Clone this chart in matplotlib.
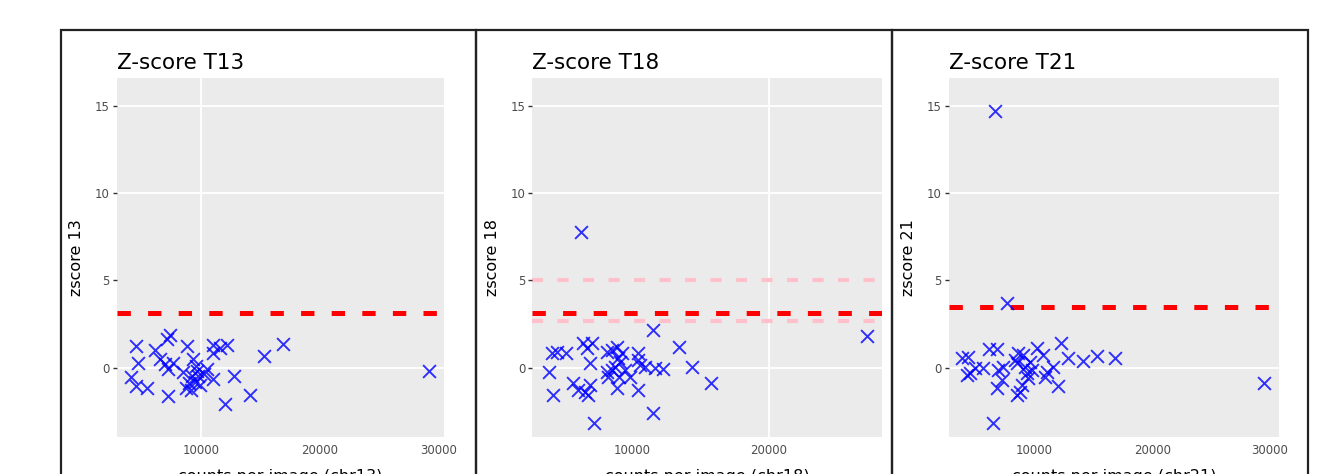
import matplotlib.pyplot as plt
from matplotlib.patches import Rectangle

# counts per image and z-scores for each chromosome
t13_x = [4450, 4680, 4040, 4450, 5440, 6060, 6510, 6900, 7100, 7360, 7215, 7640, 7215,
         8800, 8480, 8700, 9300, 9190, 9470, 9100, 9610, 9750, 10450, 11010, 10960, 11010,
         12140, 11600, 12760, 12000, 14110, 15290, 16870, 29180, 9000, 9900, 10200, 9550]
t13_y = [1.22, 0.25, -0.55, -1.05, -1.18, 1.0, 0.5, 0.2, 1.65, 1.9, -0.05, 0.25, -1.6,
         1.27, -0.22, -1.15, 0.5, -0.5, -0.8, -1.3, -0.2, -0.5, -0.05, 1.3, 0.85, -0.65,
         1.3, 1.1, -0.5, -2.1, -1.55, 0.65, 1.35, -0.2, -0.9, -1.0, -0.35, 0.1]

t18_x = [3940, 4210, 4185, 4500, 5160, 5720, 6080, 6280, 6450, 6690, 7060, 6930, 6570,
         6810, 6930, 7250, 8150, 8520, 8880, 8150, 8270, 8520, 8760, 8880, 9000, 9120,
         9250, 9050, 9490, 9850, 10460, 10410, 10580, 10460, 10950, 11560, 11680, 11560,
         12240, 13430, 14360, 15770, 27150]
t18_y = [-0.23, -1.57, 0.86, 0.92, 0.86, -0.9, -1.28, 7.74, 1.39, 1.1, 1.39, 0.25, -1.38,
         -1.57, -1.0, -3.15, 0.92, 1.01, 1.2, -0.23, -0.52, -0.13, 0.06, -1.18, 0.53, 0.34,
         0.82, -0.52, -0.13, -0.52, 0.82, 0.44, 0.15, -1.28, 0.06, 2.16, -0.04, -2.62,
         -0.1, 1.2, 0.06, -0.9, 1.81]

t21_x = [6660, 7650, 3830, 4400, 4260, 4540, 4970, 5670, 6150, 6800, 6950, 7370, 7230,
         6800, 6520, 8360, 8640, 8500, 8500, 8780, 8930, 9070, 9210, 9350, 9490, 9630,
         9770, 10200, 10760, 10900, 11050, 11610, 12040, 12240, 12890, 14160, 15290,
         16850, 29490]
t21_y = [14.67, 3.69, 0.53, 0.63, -0.42, -0.32, -0.04, -0.04, 1.05, 1.05, -0.13, 0.06,
         -0.71, -1.18, -3.19, 0.44, 0.82, 0.25, -1.57, -1.38, -1.0, 0.73, 0.06, -0.32,
         -0.61, 0.34, -0.13, 1.1, 0.73, -0.52, -0.23, 0.06, -1.05, 1.39, 0.53, 0.38, 0.67,
         0.53, -0.9]

titles = ['Z-score T13', 'Z-score T18', 'Z-score T21']
ylabels = ['zscore 13', 'zscore 18', 'zscore 21']
xlabels = ['counts per image (chr13)', 'counts per image (chr18)', 'counts per image (chr21)']
cutoffs = [3.13, 3.13, 3.5]
t18_bands = [5.0, 2.7]

W, H = 1326, 474
fig = plt.figure(figsize=(W / 100, H / 100), dpi=100)

# panel layout in pixels: plot left, plot right, border left, border right
panels = [(116.7, 444, 61, 475.7), (532.3, 882.3, 475.7, 891.7), (948.7, 1279.3, 891.7, 1308.3)]
xlims = [(2860, 30480), (2723, 28270), (2740, 30790)]
xticks = [[10000, 20000, 30000], [10000, 20000], [10000, 20000, 30000]]
xtick_marked = [[10000], [20000], []]
top, bottom = 77.7, 436.7

data = [(t13_x, t13_y), (t18_x, t18_y), (t21_x, t21_y)]
dash = (0, (2.67, 3.45))

for i in range(3):
    pl, pr, bl, br = panels[i]
    fig.patches.append(Rectangle((bl / W, -0.1), (br - bl) / W, 1.1 - 30 / H,
                                 transform=fig.transFigure, fill=False,
                                 edgecolor='#222222', lw=1.6))
    ax = fig.add_axes([pl / W, 1 - bottom / H, (pr - pl) / W, (bottom - top) / H])
    ax.set_facecolor('#EBEBEB')
    for s in ax.spines.values():
        s.set_visible(False)
    ax.set_xlim(*xlims[i])
    ax.set_ylim(-3.95, 16.6)

    # white grid only where the original draws it
    for g in [0, 10, 15]:
        ax.axhline(g, color='white', lw=1.3, zorder=0)
    for g in xtick_marked[i]:
        ax.axvline(g, color='white', lw=1.3, zorder=0)

    if i == 1:
        for b in t18_bands:
            ax.axhline(b, color='pink', lw=3.0, ls=dash, zorder=1)
    ax.axhline(cutoffs[i], color='red', lw=3.6, ls=dash, zorder=1)

    x, y = data[i]
    ax.scatter(x, y, marker='x', s=85, color='blue', linewidths=1.4, alpha=0.8, zorder=3)

    ax.set_yticks([0, 5, 10, 15])
    ax.set_xticks(xticks[i])
    ax.tick_params(axis='both', labelsize=8.5, labelcolor='#4D4D4D', color='#333333',
                   length=3, width=1, pad=2)
    for t in ax.yaxis.get_major_ticks():
        if t.get_loc() == 5:
            t.tick1line.set_visible(False)
    for t in ax.xaxis.get_major_ticks():
        if t.get_loc() not in xtick_marked[i]:
            t.tick1line.set_visible(False)

    fig.text(pl / W, 1 - 69 / H, titles[i], fontsize=15.5, ha='left', va='baseline')
    fig.text((pl - 40) / W, 1 - (top + bottom) / 2 / H, ylabels[i], fontsize=11.5,
             rotation=90, ha='center', va='center')
    fig.text((pl + pr) / 2 / W, 1 - 469 / H, xlabels[i], fontsize=11.5,
             ha='center', va='top')

fig.savefig('out.png', dpi=100)
